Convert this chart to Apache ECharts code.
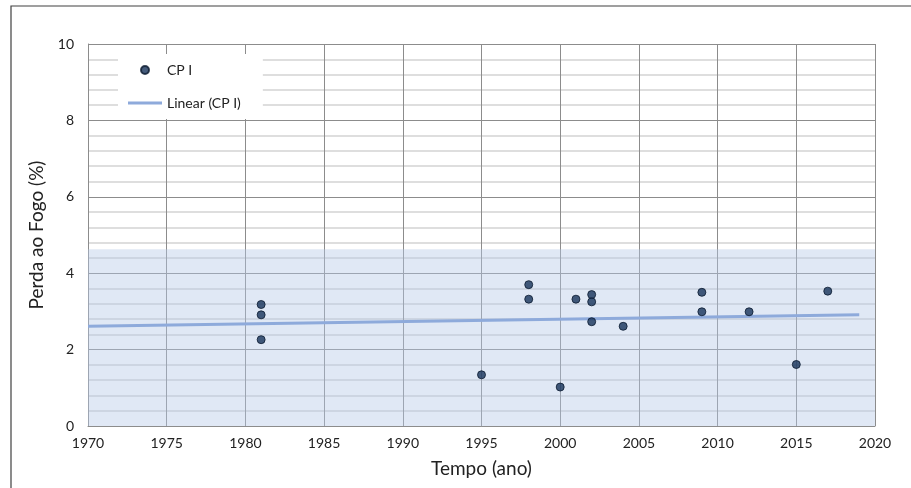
<!DOCTYPE html>
<html><head><meta charset="utf-8">
<script src="https://cdn.jsdelivr.net/npm/echarts@6/dist/echarts.min.js"></script>
<style>html,body{margin:0;padding:0;background:#fff}#c{width:911px;height:488px}</style>
</head><body><div id="c"></div>
<script>
const years = [1981,1981,1981,1995,1998,1998,2000,2001,2002,2002,2002,2004,2009,2009,2012,2015,2017];
const values = [3.18,2.91,2.26,1.34,3.70,3.32,1.02,3.32,3.44,3.25,2.73,2.61,3.50,2.99,2.99,1.61,3.53];
const trendYears = [1970, 2019];
const trendValues = [2.61, 2.91];
const bandRange = [0, 4.63];
const xTicks = [1970,1975,1980,1985,1990,1995,2000,2005,2010,2015,2020];
const yTicks = [0,2,4,6,8,10];

const font = "Lato, 'Open Sans', sans-serif";
const chart = echarts.init(document.getElementById('c'));
chart.setOption({
  animation:false,
  backgroundColor:'#fff',
  graphic:[{type:'rect',shape:{x:11,y:6,width:920,height:500},style:{fill:'none',stroke:'#404040',lineWidth:1.2},silent:true}],
  grid:{left:88,right:36,top:44,bottom:62},
  legend:{
    orient:'vertical',left:118,top:54,
    backgroundColor:'#fff',padding:[9,22,9,10],itemGap:19,
    itemWidth:34,itemHeight:8,
    textStyle:{fontFamily:font,fontSize:14,color:'#222'},
    data:[{name:'CP I',icon:'circle'},{name:'Linear (CP I)',icon:'path://M0 0H34V3H0Z'}]
  },
  xAxis:{type:'value',min:xTicks[0],max:xTicks[xTicks.length-1],interval:5,
    axisLine:{show:true,lineStyle:{color:'#8c8c8c'}},axisTick:{show:false},
    axisLabel:{fontFamily:font,fontSize:14,color:'#222',margin:10,formatter:v=>String(v)},
    splitLine:{show:true,lineStyle:{color:'#8c8c8c',width:1}},
    name:'Tempo (ano)',nameLocation:'middle',nameGap:33,
    nameTextStyle:{fontFamily:font,fontSize:19,color:'#222'}},
  yAxis:{type:'value',min:yTicks[0],max:yTicks[yTicks.length-1],interval:2,
    axisLine:{show:true,lineStyle:{color:'#8c8c8c'}},axisTick:{show:false},
    axisLabel:{fontFamily:font,fontSize:14,color:'#222',margin:14},
    splitLine:{show:true,lineStyle:{color:'#8c8c8c',width:1}},
    minorTick:{show:false,splitNumber:5},
    minorSplitLine:{show:true,lineStyle:{color:'#d4d4d4',width:1.5}},
    name:'Perda ao Fogo (%)',nameLocation:'middle',nameGap:42,
    nameTextStyle:{fontFamily:font,fontSize:19,color:'#222'}},
  series:[
    {name:'band',type:'line',data:[],silent:true,
     markArea:{silent:true,itemStyle:{color:'rgba(180,199,231,0.42)'},
       data:[[{xAxis:xTicks[0],yAxis:bandRange[0]},{xAxis:xTicks[xTicks.length-1],yAxis:bandRange[1]}]]}},
    {name:'Linear (CP I)',type:'line',showSymbol:false,symbol:'none',
     data:trendYears.map((x,i)=>[x,trendValues[i]]),
     lineStyle:{color:'#8eaadb',width:3},itemStyle:{color:'#8eaadb'},z:3},
    {name:'CP I',type:'scatter',symbolSize:8,
     data:years.map((x,i)=>[x,values[i]]),
     itemStyle:{color:'#16325a',borderColor:'#0b1a30',borderWidth:1},z:4}
  ]
});
</script></body></html>
